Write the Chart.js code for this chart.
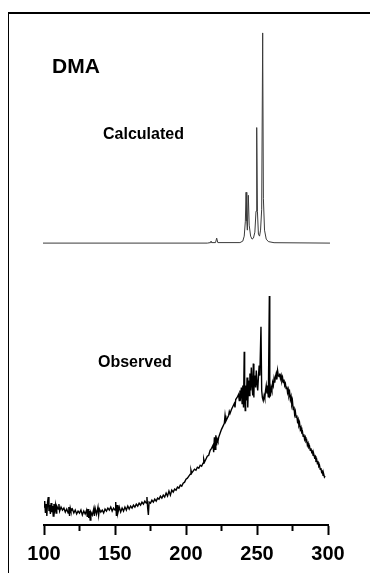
<!DOCTYPE html>
<html>
<head>
<meta charset="utf-8">
<script src="https://cdn.jsdelivr.net/npm/chart.js@4.4.1/dist/chart.umd.min.js"></script>
<style>
  html, body { margin: 0; padding: 0; background: #fff; }
  body { width: 370px; height: 573px; position: relative; overflow: hidden; }
  #frame { position: absolute; left: 8px; top: 12px; width: 362px; height: 561px;
           border-top: 2px solid #000; border-left: 1px solid #000; box-sizing: border-box; }
  canvas { position: absolute; left: 0; top: 0; }
  .lbl { position: absolute; font-family: "Liberation Sans", Arial, sans-serif; font-weight: bold;
         color: #000; line-height: 1; white-space: nowrap; }
</style>
</head>
<body>
<div id="frame"></div>
<canvas id="spectra" width="370" height="573"></canvas>
<div class="lbl" style="left:52px; top:55px; font-size:21px;">DMA</div>
<div class="lbl" style="left:103px; top:126px; font-size:16px;">Calculated</div>
<div class="lbl" style="left:98px; top:354px; font-size:16px;">Observed</div>
<script>
// x axis ticks (labels only on every 50)
const tickValues = [100, 125, 150, 175, 200, 225, 250, 275, 300];

// calculated spectrum (peak heights)
const calcX = [99.3, 215, 217.2, 217.6, 218, 220.8, 221.6, 222.4, 238, 240, 241, 241.8, 242.3, 242.8, 243.2,
  243.9, 244.5, 245.5, 246.5, 247.5, 248.5, 249.3, 249.8, 250.3, 251, 251.8, 252.5, 253.3, 254, 254.5,
  255.3, 256.5, 258, 262, 301.4];
const calcY = [0, 0, 0.5, 2, 0.5, 0.5, 5, 0.5, 0.5, 2, 7, 22, 51, 22, 13,
  48, 18, 7, 4, 5, 11, 32, 116, 32, 9, 7, 13, 34, 211, 45,
  13, 4, 1.5, 0.4, 0];

// observed spectrum (noisy trace, read point by point)
const obsX = [100, 100.5, 101, 101.5, 102, 102.5, 103, 103.5, 104, 104.5, 105, 105.5, 106, 106.5, 107, 107.5,
  108, 108.5, 109, 110, 110.5, 111, 112, 113, 114, 115, 116, 117, 117.5, 118, 118.5, 119, 120, 121, 122,
  123, 124, 125, 126, 127, 128, 129, 130, 130.5, 131, 131.5, 132, 132.5, 133, 134, 135, 135.5, 136, 137,
  138, 138.5, 139, 140, 141, 142, 143, 144, 145, 146, 147, 148, 149, 150, 150.5, 151, 151.5, 152, 153,
  154, 155, 156, 157, 158, 159, 160, 161, 162, 163, 164, 165, 166, 167, 168, 169, 170, 171, 172, 172.5,
  173, 173.5, 174, 175, 176, 177, 178, 179, 180, 181, 182, 183, 184, 185, 186, 187, 188, 189, 190, 191,
  192, 193, 194, 195, 196, 197, 198, 199, 200, 201, 202, 203, 203.5, 204, 205, 206, 207, 208, 209, 210,
  211, 212, 212.5, 213, 214, 215, 216, 217, 218, 219, 219.5, 220, 220.5, 221, 221.5, 222, 222.5, 223,
  224, 225, 226, 227, 227.5, 228, 229, 230, 230.5, 231, 232, 233, 234, 234.5, 235, 236, 237, 237.5, 238,
  238.5, 239, 239.5, 240, 240.5, 241, 241.3, 241.7, 242, 242.5, 243, 243.5, 244, 244.5, 245, 245.5, 246,
  246.5, 247, 247.4, 247.8, 248, 248.5, 249, 249.5, 250, 250.5, 251, 251.5, 252, 252.8, 253.3, 253.8,
  254.4, 255, 255.5, 256, 256.5, 257, 257.5, 258, 258.7, 259, 259.5, 260, 260.5, 261, 261.5, 262, 262.5,
  263, 263.5, 264, 264.5, 265, 265.5, 266, 266.5, 267, 267.5, 268, 268.5, 269, 269.5, 270, 270.5, 271,
  271.5, 272, 272.5, 273, 273.5, 274, 274.5, 275, 275.5, 276, 276.5, 277, 277.5, 278, 278.5, 279, 279.5,
  280, 280.5, 281, 281.5, 282, 282.5, 283, 283.5, 284, 284.5, 285, 285.5, 286, 286.5, 287, 287.5, 288,
  288.5, 289, 289.5, 290, 290.5, 291, 291.5, 292, 292.5, 293, 293.5, 294, 294.5, 295, 295.5, 296, 296.5,
  297, 297.5, 298];
const obsY = [18, 24, 12, 21, 9, 23, 28, 14, 20, 11, 22, 13, 19, 9, 21, 15,
  20, 12, 19, 16, 21, 14, 18, 15, 17, 13, 16, 12, 18, 9, 17, 14, 16, 12, 15,
  11, 14, 12, 15, 10, 14, 11, 15, 8, 16, 7, 14, 5, 13, 10, 16, 9, 17, 11,
  18, 10, 16, 13, 15, 12, 16, 14, 17, 15, 18, 14, 17, 15, 23, 9, 20, 12, 18,
  13, 17, 14, 18, 15, 19, 16, 19, 17, 20, 18, 21, 19, 22, 20, 23, 21, 24, 22, 28,
  17, 10, 23, 22, 25, 23, 26, 24, 27, 26, 29, 27, 30, 28, 32, 29, 34, 30, 35, 33,
  36, 35, 38, 37, 40, 39, 42, 43, 46, 47, 49, 51, 55, 52, 54, 56, 55, 58, 57, 60,
  59, 62, 66, 63, 66, 69, 70, 75, 77, 80, 73, 88, 76, 90, 80, 86, 84, 88,
  92, 96, 99, 102, 110, 104, 107, 110, 114, 112, 116, 119, 122, 118, 126, 128, 131, 125, 135,
  130, 138, 122, 140, 118, 174, 132, 115, 140, 125, 148, 118, 145, 130, 152, 135, 158,
  140, 130, 162, 128, 145, 150, 138, 155, 142, 135, 148, 160, 150, 199, 135, 128,
  125, 130, 127, 135, 140, 132, 136, 128, 230, 129, 130, 138, 135, 143, 140, 147, 143,
  149, 152, 146, 155, 150, 149, 152, 147, 150, 145, 148, 143, 146, 140, 142, 137, 139,
  133, 136, 130, 133, 126, 129, 121, 124, 116, 119, 111, 114, 108, 110, 104, 106, 100,
  102, 96, 98, 93, 94, 89, 91, 86, 88, 84, 85, 80, 82, 78, 79, 75, 77,
  73, 74, 70, 71, 68, 69, 65, 66, 62, 63, 59, 60, 56, 57, 53, 54, 50,
  51, 48, 49];

const calcData = calcX.map((x, i) => ({ x: x, y: calcY[i] }));
const obsData = obsX.map((x, i) => ({ x: x, y: obsY[i] }));

new Chart(document.getElementById("spectra"), {
  type: "line",
  data: {
    datasets: [
      {
        label: "Calculated",
        data: calcData,
        yAxisID: "yCalc",
        borderColor: "#3a3a3a",
        borderWidth: 1,
        pointRadius: 0,
        tension: 0,
        clip: false,
      },
      {
        label: "Observed",
        data: obsData,
        yAxisID: "yObs",
        borderColor: "#000",
        borderWidth: 1.4,
        pointRadius: 0,
        tension: 0,
      },
    ],
  },
  options: {
    responsive: false,
    animation: false,
    layout: { padding: { left: 44, right: 42, top: 13, bottom: 0 } },
    plugins: { legend: { display: false }, tooltip: { enabled: false } },
    scales: {
      x: {
        type: "linear",
        min: 100,
        max: 300,
        afterBuildTicks: (scale) => {
          scale.ticks = tickValues.map((v) => ({ value: v }));
        },
        grid: {
          drawOnChartArea: false,
          tickLength: 10,
          tickWidth: 2,
          tickColor: "#000",
          tickBorderDash: (ctx) => (ctx.tick && ctx.tick.value % 50 !== 0 ? [5, 30] : []),
        },
        border: { display: true, color: "#000", width: 2 },
        ticks: {
          autoSkip: false,
          maxRotation: 0,
          padding: 7,
          color: "#000",
          font: { family: "'Liberation Sans', Arial, sans-serif", size: 20, weight: "bold" },
          callback: (v) => (v % 50 === 0 ? String(v) : ""),
        },
      },
      yObs: { type: "linear", display: false, min: 0, max: 514 },
      yCalc: { type: "linear", display: false, min: -283, max: 231 },
    },
  },
});
</script>
</body>
</html>
